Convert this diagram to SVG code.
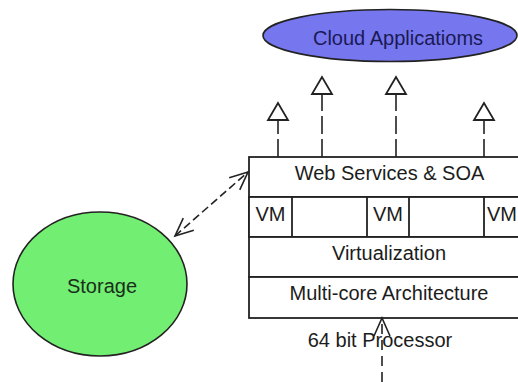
<svg xmlns="http://www.w3.org/2000/svg" width="518" height="382" viewBox="0 0 518 382">
<style>
  text { font-family: "Liberation Sans", Arial, sans-serif; font-size: 20px; fill: #1c1c1c; text-anchor: middle; }
  .box { fill: #ffffff; stroke: #222222; stroke-width: 1.8; }
  .conn { fill: none; stroke: #222222; stroke-width: 1.6; }
  .d1 { stroke-dasharray: 18 5; }
  .d2 { stroke-dasharray: 8 4; }
  .d3 { stroke-dasharray: 10 6; }
</style>
<defs>
  <marker id="tri" markerUnits="userSpaceOnUse" orient="auto" refX="0" refY="0" overflow="visible" markerWidth="20" markerHeight="20">
    <path d="M0,0 L-17,-10 L-17,10 Z" fill="#ffffff" stroke="#222222" stroke-width="1.8"/>
  </marker>
  <marker id="vee" markerUnits="userSpaceOnUse" orient="auto-start-reverse" refX="0" refY="0" overflow="visible" markerWidth="20" markerHeight="20">
    <path d="M-18,-8 L0,0 L-18,8" fill="none" stroke="#222222" stroke-width="1.6"/>
  </marker>
</defs>

<g id="cloud">
  <ellipse cx="390" cy="35.5" rx="127" ry="26" fill="#7676ee" stroke="#222222" stroke-width="1.6"/>
  <text x="398" y="45" style="fill:#1a1a55">Cloud Applicatioms</text>
</g>

<g id="storage">
  <ellipse cx="100" cy="284" rx="87" ry="72" fill="#72ee72" stroke="#222222" stroke-width="1.6"/>
  <text x="102" y="293" style="fill:#1a2e1a">Storage</text>
</g>

<g id="web-services">
  <rect class="box" x="249" y="157" width="290" height="40"/>
  <text x="389.5" y="180">Web Services &amp; SOA</text>
</g>
<g id="vm-row">
  <rect class="box" x="249" y="197" width="290" height="40"/>
</g>
<g id="vm1">
  <rect class="box" x="249" y="197" width="43" height="40"/>
  <text x="270.5" y="221">VM</text>
</g>
<g id="vm2">
  <rect class="box" x="367" y="197" width="42" height="40"/>
  <text x="388" y="221">VM</text>
</g>
<g id="vm3">
  <rect class="box" x="484" y="197" width="43" height="40"/>
  <text x="487" y="221" style="text-anchor:start">VM</text>
</g>
<g id="virtualization">
  <rect class="box" x="249" y="237" width="290" height="40"/>
  <text x="389" y="260">Virtualization</text>
</g>
<g id="multicore">
  <rect class="box" x="249" y="277" width="290" height="41"/>
  <text x="389" y="300">Multi-core Architecture</text>
</g>
<g id="processor">
  <text x="380" y="347">64 bit Processor</text>
</g>

<g id="connectors">
  <line class="conn d1" x1="278" y1="157" x2="278" y2="103" marker-end="url(#tri)"/>
  <line class="conn d1" x1="322" y1="157" x2="322" y2="77" marker-end="url(#tri)"/>
  <line class="conn d1" x1="396" y1="157" x2="396" y2="77" marker-end="url(#tri)"/>
  <line class="conn d1" x1="484" y1="157" x2="484" y2="103" marker-end="url(#tri)"/>
  <line class="conn d2" x1="175" y1="236" x2="248" y2="172" marker-start="url(#vee)" marker-end="url(#vee)"/>
  <line class="conn d3" x1="382" y1="382" x2="382" y2="318" marker-end="url(#vee)"/>
</g>
</svg>
